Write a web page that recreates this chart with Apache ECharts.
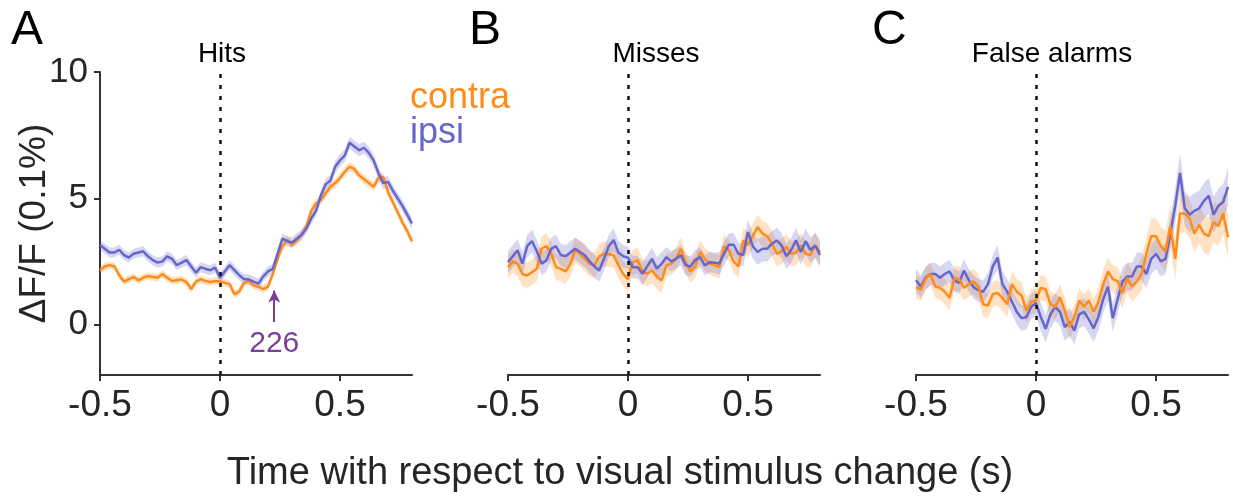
<!DOCTYPE html>
<html>
<head>
<meta charset="utf-8">
<script src="https://cdn.jsdelivr.net/npm/echarts@6/dist/echarts.min.js"></script>
<style>
  html, body { margin: 0; padding: 0; background: #fff; }
  #chart { width: 1233px; height: 499px; }
</style>
</head>
<body>
<div id="chart"></div>
<script>
// time points (s) relative to visual stimulus change
const timePoints = [
  -0.5, -0.48, -0.46, -0.44, -0.42, -0.4, -0.38, -0.36, -0.34, -0.32, -0.3,
  -0.28, -0.26, -0.24, -0.22, -0.2, -0.18, -0.16, -0.14, -0.12, -0.1, -0.08,
  -0.06, -0.04, -0.02, 0, 0.02, 0.04, 0.06, 0.08, 0.1, 0.12, 0.14,
  0.16, 0.18, 0.2, 0.22, 0.24, 0.26, 0.28, 0.3, 0.32, 0.34, 0.36,
  0.38, 0.4, 0.42, 0.44, 0.46, 0.48, 0.5, 0.52, 0.54, 0.56, 0.58,
  0.6, 0.62, 0.64, 0.66, 0.68, 0.7, 0.72, 0.74, 0.76, 0.78, 0.8
];

// A - Hits
const hitsContra = [
  2.15, 2.3, 2.35, 2.3, 1.95, 1.7, 1.8, 1.88, 1.75, 1.85, 1.92,
  1.88, 1.85, 2.0, 1.85, 1.72, 1.75, 1.78, 1.68, 1.4, 1.7, 1.8,
  1.72, 1.68, 1.72, 1.7, 1.65, 1.6, 1.2, 1.3, 1.65, 1.72, 1.55,
  1.5, 1.4, 1.5, 2.0, 2.6, 3.1, 3.35, 3.15, 3.35, 3.55, 3.9,
  4.5, 4.8, 4.92, 5.2, 5.45, 5.6, 5.8, 6.05, 6.25, 6.15, 5.9,
  5.75, 5.6, 5.45, 5.8, 5.85, 5.25, 4.85, 4.45, 4.05, 3.7, 3.3
];
const hitsIpsi = [
  3.15, 3.0, 2.85, 2.85, 2.96, 2.75, 2.65, 2.8, 2.85, 2.9, 2.7,
  2.55, 2.45, 2.5, 2.7, 2.6, 2.35, 2.45, 2.55, 2.3, 2.05, 2.27,
  2.2, 2.15, 2.25, 1.85, 2.1, 2.35, 2.15, 1.95, 1.8, 1.78, 1.7,
  1.62, 1.9, 2.1, 2.2, 2.8, 3.4, 3.3, 3.25, 3.4, 3.55, 3.8,
  4.2, 4.5, 5.1, 5.55, 5.7, 6.25, 6.5, 6.7, 7.2, 7.05, 6.9,
  7.0, 6.8, 6.5, 6.0, 5.6, 5.65, 5.3, 5.0, 4.7, 4.35, 4.0
];
const hitsContraSem = [
  0.15, 0.15, 0.15, 0.15, 0.15, 0.15, 0.15, 0.15, 0.15, 0.15, 0.15,
  0.15, 0.15, 0.15, 0.15, 0.15, 0.15, 0.15, 0.15, 0.15, 0.15, 0.15,
  0.15, 0.15, 0.15, 0.15, 0.15, 0.15, 0.16, 0.16, 0.16, 0.16, 0.16,
  0.16, 0.16, 0.16, 0.16, 0.17, 0.17, 0.17, 0.17, 0.17, 0.18, 0.18,
  0.18, 0.18, 0.18, 0.18, 0.18, 0.18, 0.18, 0.18, 0.18, 0.18, 0.18,
  0.18, 0.18, 0.18, 0.18, 0.18, 0.18, 0.18, 0.18, 0.18, 0.18, 0.18
];
const hitsIpsiSem = [
  0.2, 0.2, 0.2, 0.2, 0.2, 0.2, 0.2, 0.2, 0.2, 0.2, 0.2,
  0.2, 0.2, 0.2, 0.2, 0.2, 0.2, 0.2, 0.2, 0.2, 0.2, 0.2,
  0.2, 0.2, 0.2, 0.2, 0.2, 0.2, 0.2, 0.2, 0.2, 0.2, 0.2,
  0.2, 0.2, 0.2, 0.2, 0.2, 0.2, 0.2, 0.2, 0.2, 0.2, 0.2,
  0.22, 0.22, 0.22, 0.22, 0.22, 0.24, 0.24, 0.24, 0.24, 0.24, 0.24,
  0.24, 0.24, 0.24, 0.24, 0.24, 0.22, 0.22, 0.22, 0.22, 0.22, 0.22
];

// B - Misses
const missesContra = [
  2.27, 2.5, 2.4, 2.0, 1.94, 2.07, 2.21, 3.0, 3.1, 2.8, 2.27,
  2.2, 2.1, 2.4, 2.94, 2.8, 2.6, 2.41, 2.34, 2.7, 2.8, 2.78,
  2.74, 2.35, 2.0, 1.8, 2.47, 2.54, 2.1, 2.01, 2.14, 1.9, 1.74,
  2.34, 2.41, 2.6, 3.0, 2.47, 2.1, 2.3, 2.87, 2.6, 2.41, 2.35,
  2.27, 3.1, 2.95, 2.5, 2.3, 3.33, 3.16, 3.5, 3.86, 3.6, 3.5,
  3.2, 2.8, 2.9, 3.07, 2.8, 2.85, 3.13, 2.8, 2.75, 3.13, 2.87
];
const missesIpsi = [
  2.47, 2.7, 2.94, 2.41, 3.1, 3.3, 2.9, 2.41, 2.54, 3.0, 3.1,
  2.75, 2.7, 2.85, 3.0, 2.87, 2.74, 2.5, 2.3, 2.14, 2.6, 3.1,
  3.35, 2.85, 2.7, 2.65, 2.27, 2.27, 2.01, 2.3, 2.6, 2.21, 2.4,
  2.67, 2.5, 2.6, 2.74, 2.35, 2.3, 2.55, 2.67, 2.34, 2.47, 2.45,
  2.41, 2.8, 3.16, 3.16, 2.8, 2.75, 3.66, 3.1, 2.87, 3.0, 3.0,
  3.2, 3.33, 3.13, 2.7, 2.95, 3.33, 2.87, 3.3, 2.95, 3.13, 2.76
];
const missesContraSem = [
  0.45, 0.45, 0.5, 0.5, 0.5, 0.5, 0.5, 0.5, 0.5, 0.5, 0.5,
  0.5, 0.5, 0.5, 0.5, 0.5, 0.5, 0.5, 0.5, 0.5, 0.5, 0.5,
  0.5, 0.5, 0.5, 0.5, 0.5, 0.5, 0.5, 0.5, 0.5, 0.5, 0.5,
  0.45, 0.45, 0.45, 0.45, 0.45, 0.45, 0.45, 0.45, 0.45, 0.45, 0.45,
  0.45, 0.45, 0.45, 0.45, 0.45, 0.5, 0.5, 0.5, 0.5, 0.5, 0.5,
  0.5, 0.5, 0.5, 0.5, 0.5, 0.5, 0.5, 0.5, 0.5, 0.5, 0.5
];
const missesIpsiSem = [
  0.45, 0.45, 0.45, 0.45, 0.45, 0.45, 0.45, 0.45, 0.45, 0.45, 0.45,
  0.45, 0.45, 0.45, 0.45, 0.45, 0.45, 0.45, 0.45, 0.45, 0.45, 0.45,
  0.45, 0.45, 0.45, 0.45, 0.45, 0.45, 0.45, 0.45, 0.45, 0.45, 0.45,
  0.4, 0.4, 0.4, 0.4, 0.4, 0.4, 0.4, 0.4, 0.4, 0.4, 0.4,
  0.45, 0.45, 0.45, 0.45, 0.45, 0.45, 0.5, 0.5, 0.5, 0.5, 0.5,
  0.5, 0.5, 0.5, 0.5, 0.5, 0.5, 0.5, 0.5, 0.5, 0.5, 0.5
];

// C - False alarms
const faContra = [
  1.48, 1.38, 1.8, 2.0, 1.5, 1.45, 1.3, 1.05, 1.85, 1.8, 1.45,
  1.6, 1.7, 1.5, 0.8, 0.75, 1.2, 1.25, 1.05, 0.8, 1.6, 1.3,
  1.15, 0.55, 0.9, 0.95, 1.45, 1.4, 0.8, 0.7, 1.08, 0.56, -0.1,
  0.3, 0.95, 0.7, 0.95, 0.5, 0.9, 1.6, 2.1, 1.8, 1.72, 1.25,
  1.85, 1.5, 1.7, 2.0, 2.8, 3.5, 3.5, 3.1, 2.9, 3.9, 2.6,
  4.4, 4.4, 4.2, 3.6, 3.95, 3.6, 3.5, 4.06, 3.9, 4.4, 3.46
];
const faIpsi = [
  1.75, 1.5, 1.85, 2.0, 2.0, 1.85, 2.0, 2.1, 1.75, 1.65, 2.14,
  1.75, 1.48, 1.35, 1.3, 1.6, 2.3, 2.65, 1.6, 1.3, 0.9, 0.5,
  0.25, 0.3, 0.7, 0.85, 0.3, -0.17, 0.4, 0.7, 0.5, -0.1, 0.1,
  -0.24, 0.4, 0.5, 0.2, -0.15, 0.3, 1.0, 1.5, 0.25, 1.0, 1.7,
  1.9, 1.9, 2.3, 2.3, 2.0, 2.6, 2.8, 2.5, 2.6, 3.6, 4.7,
  6.0, 4.6, 4.35, 4.5, 4.6, 4.9, 5.1, 4.35, 4.7, 4.85, 5.45
];
const faContraSem = [
  0.45, 0.45, 0.45, 0.45, 0.45, 0.45, 0.5, 0.5, 0.5, 0.5, 0.5,
  0.5, 0.5, 0.5, 0.5, 0.5, 0.5, 0.5, 0.5, 0.5, 0.5, 0.5,
  0.5, 0.5, 0.5, 0.5, 0.5, 0.5, 0.5, 0.5, 0.5, 0.5, 0.5,
  0.5, 0.5, 0.5, 0.5, 0.5, 0.55, 0.55, 0.55, 0.55, 0.55, 0.6,
  0.6, 0.6, 0.6, 0.65, 0.65, 0.7, 0.7, 0.75, 0.8, 0.8, 0.8,
  0.8, 0.75, 0.75, 0.75, 0.75, 0.75, 0.75, 0.8, 0.8, 0.85, 0.85
];
const faIpsiSem = [
  0.45, 0.45, 0.45, 0.45, 0.45, 0.45, 0.45, 0.45, 0.45, 0.45, 0.45,
  0.45, 0.45, 0.45, 0.45, 0.45, 0.45, 0.5, 0.5, 0.5, 0.5, 0.5,
  0.5, 0.5, 0.5, 0.5, 0.55, 0.55, 0.55, 0.55, 0.55, 0.55, 0.55,
  0.55, 0.55, 0.55, 0.55, 0.55, 0.55, 0.55, 0.55, 0.55, 0.55, 0.55,
  0.55, 0.55, 0.55, 0.55, 0.55, 0.6, 0.6, 0.6, 0.6, 0.65, 0.7,
  0.75, 0.7, 0.7, 0.7, 0.7, 0.7, 0.7, 0.7, 0.7, 0.7, 0.75
];

const panelTitles = ["Hits", "Misses", "False alarms"];
const panelLetters = ["A", "B", "C"];
const xTickValues = [-0.5, 0, 0.5];
const yTickValues = [0, 5, 10];
const arrowTime = 0.226;
const arrowLabel = "226";

const FONT = "'Liberation Sans', Arial, sans-serif";
const ORANGE = "#ff8c1a";
const BLUE = "#6666cc";
const ORANGE_BAND = "rgba(255, 150, 40, 0.28)";
const BLUE_BAND = "rgba(110, 110, 210, 0.28)";
const PURPLE = "#7b3f98";
const AXIS = "#333333";
const TEXT = "#262626";

const gridLefts = [100, 508, 916];

let myChart = echarts.init(document.getElementById("chart"));

function pairs(values) {
  return timePoints.map((t, i) => [t, values[i]]);
}

// shaded band (mean +/- sem) drawn as one polygon through the axis scales
function bandSeries(idx, values, sem, color) {
  const lower = values.map((v, i) => v - sem[i]);
  const upper = values.map((v, i) => v + sem[i]);
  return {
    type: "custom",
    xAxisIndex: idx,
    yAxisIndex: idx,
    silent: true,
    z: 1,
    data: timePoints.map((t, i) => [t, lower[i], upper[i]]),
    encode: { x: 0, y: [1, 2] },
    renderItem: (params, api) => {
      if (params.dataIndex !== 0) return null;
      const top = timePoints.map((t, i) => api.coord([t, upper[i]]));
      const bottom = timePoints.map((t, i) => api.coord([t, lower[i]])).reverse();
      return {
        type: "polygon",
        shape: { points: top.concat(bottom) },
        style: { fill: color },
      };
    },
  };
}

function traceSeries(idx, values, color, z, extra) {
  return Object.assign(
    {
      type: "line",
      xAxisIndex: idx,
      yAxisIndex: idx,
      data: pairs(values),
      symbol: "none",
      silent: true,
      lineStyle: { color: color, width: 2.5 },
      z: z,
    },
    extra || {}
  );
}

const stimulusLine = {
  silent: true,
  symbol: "none",
  label: { show: false },
  lineStyle: { color: "#111", width: 2.5, type: [4, 7] },
  data: [{ xAxis: 0 }],
};

const panels = [
  [hitsContra, hitsIpsi, hitsContraSem, hitsIpsiSem],
  [missesContra, missesIpsi, missesContraSem, missesIpsiSem],
  [faContra, faIpsi, faContraSem, faIpsiSem],
];

let grids = [];
let xAxes = [];
let yAxes = [];
let series = [];

panels.forEach((p, idx) => {
  grids.push({ left: gridLefts[idx], top: 72, width: 312, height: 303 });
  xAxes.push({
    type: "value",
    gridIndex: idx,
    min: -0.5,
    max: 0.8,
    axisLine: { show: true, onZero: false, lineStyle: { color: AXIS, width: 2 } },
    axisTick: {
      show: true,
      length: 6,
      lineStyle: { color: AXIS, width: 2 },
      customValues: xTickValues,
    },
    axisLabel: {
      color: TEXT,
      fontSize: 37,
      fontFamily: FONT,
      margin: 12,
      customValues: xTickValues,
      formatter: (v) => String(v),
    },
    splitLine: { show: false },
  });
  yAxes.push({
    type: "value",
    gridIndex: idx,
    min: -2,
    max: 10,
    show: idx === 0,
    name: idx === 0 ? "\u0394F/F (0.1%)" : "",
    nameLocation: "middle",
    nameRotate: 90,
    nameGap: 47,
    nameMoveOverlap: false,
    nameTextStyle: { color: TEXT, fontSize: 37, fontFamily: FONT },
    axisLine: { show: true, onZero: false, lineStyle: { color: AXIS, width: 2 } },
    axisTick: {
      show: true,
      length: 6,
      lineStyle: { color: AXIS, width: 2 },
      customValues: yTickValues,
    },
    axisLabel: {
      color: TEXT,
      fontSize: 35,
      fontFamily: FONT,
      margin: 12,
      customValues: yTickValues,
    },
    splitLine: { show: false },
  });

  const [contra, ipsi, contraSem, ipsiSem] = p;
  series.push(bandSeries(idx, contra, contraSem, ORANGE_BAND));
  series.push(bandSeries(idx, ipsi, ipsiSem, BLUE_BAND));

  // orange on top in C, blue on top otherwise
  const contraZ = idx === 2 ? 4 : 3;
  const ipsiZ = idx === 2 ? 3 : 4;
  series.push(traceSeries(idx, contra, ORANGE, contraZ, { markLine: stimulusLine }));
  series.push(traceSeries(idx, ipsi, BLUE, ipsiZ));
});

// latency arrow in panel A
series.push({
  type: "line",
  xAxisIndex: 0,
  yAxisIndex: 0,
  data: [],
  markLine: {
    silent: true,
    symbol: ["none", "arrow"],
    symbolSize: [9, 12],
    lineStyle: { color: PURPLE, width: 2, type: "solid" },
    label: {
      show: true,
      position: "start",
      formatter: arrowLabel,
      color: PURPLE,
      fontSize: 30,
      fontFamily: FONT,
      distance: 7,
    },
    data: [
      [
        { coord: [arrowTime, 0.1] },
        { coord: [arrowTime, 1.35] },
      ],
    ],
  },
});

let graphics = [];
const titleCenters = [222, 656, 1052];
const letterLefts = [11, 469, 872];
panelLetters.forEach((l, i) => {
  graphics.push({
    type: "text",
    x: letterLefts[i],
    y: 31,
    style: {
      text: l,
      fontSize: 48,
      fontFamily: FONT,
      fill: "#000",
      textVerticalAlign: "middle",
    },
  });
  graphics.push({
    type: "text",
    x: titleCenters[i],
    y: 54,
    style: {
      text: panelTitles[i],
      fontSize: 28,
      fontFamily: FONT,
      fill: "#000",
      textAlign: "center",
      textVerticalAlign: "middle",
    },
  });
});
graphics.push({
  type: "text",
  x: 410,
  y: 98,
  style: {
    text: "contra",
    fontSize: 36,
    fontFamily: FONT,
    fill: ORANGE,
    textVerticalAlign: "middle",
  },
});
graphics.push({
  type: "text",
  x: 410,
  y: 133,
  style: {
    text: "ipsi",
    fontSize: 36,
    fontFamily: FONT,
    fill: BLUE,
    textVerticalAlign: "middle",
  },
});
graphics.push({
  type: "text",
  x: 620,
  y: 474,
  style: {
    text: "Time with respect to visual stimulus change (s)",
    fontSize: 38,
    fontFamily: FONT,
    fill: TEXT,
    textAlign: "center",
    textVerticalAlign: "middle",
  },
});

let option = {
  animation: false,
  backgroundColor: "#fff",
  grid: grids,
  xAxis: xAxes,
  yAxis: yAxes,
  series: series,
  graphic: graphics,
};

myChart.setOption(option);
</script>
</body>
</html>
